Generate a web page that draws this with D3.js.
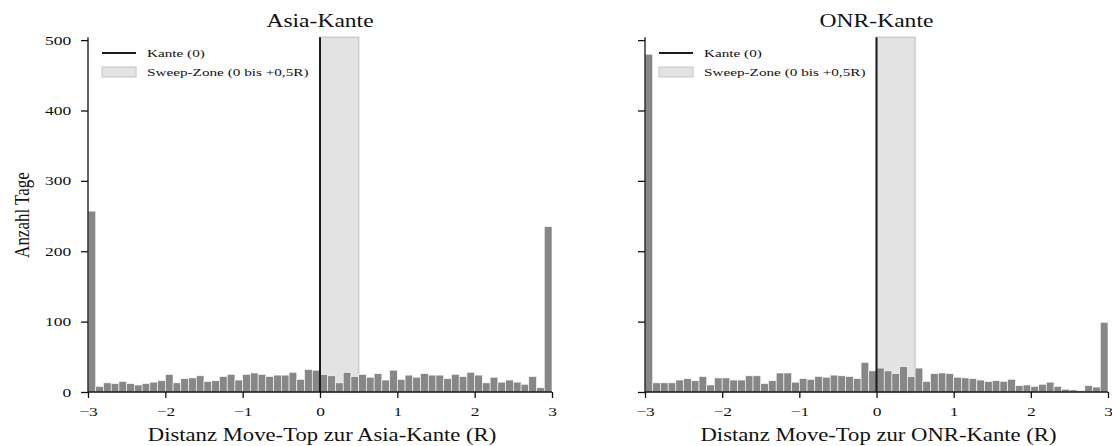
<!DOCTYPE html>
<html><head><meta charset="utf-8">
<script src="https://cdn.jsdelivr.net/npm/d3@7"></script>
<style>
html,body{margin:0;padding:0;background:#fff;}
svg{display:block;font-family:"Liberation Serif","DejaVu Serif",serif;}
</style></head>
<body>
<svg id="chart" width="1112" height="446"></svg>
<script>
// ---- data ----
const binLefts = d3.range(60).map(i => -3 + i * 0.1);
const binWidth = 0.1;
const asiaCounts = [257,8,13,12,15,12,10,12,14,16, 25,13,19,20,23,15,16,22,25,17, 25,27,25,22,24,24,28,18,32,31,
                    25,23,13,28,22,25,21,26,17,31, 18,24,21,26,24,24,19,25,22,28, 24,13,21,14,17,14,11,22,6,235];
const onrCounts  = [480,13,13,13,17,19,16,22,10,20, 20,17,17,23,23,12,16,27,27,14, 19,18,22,21,24,23,22,19,42,30,
                    34,30,26,36,22,34,15,26,27,26, 21,20,19,17,15,16,15,18,9,10, 8,11,14,8,4,3,2,9,7,99];
const xTicks = [-3,-2,-1,0,1,2,3];
const yTicks = [0,100,200,300,400,500];
const titles = ["Asia-Kante", "ONR-Kante"];
const xLabels = ["Distanz Move-Top zur Asia-Kante (R)", "Distanz Move-Top zur ONR-Kante (R)"];
const yLabel = "Anzahl Tage";
const legendLabels = ["Kante (0)", "Sweep-Zone (0 bis +0,5R)"];
const sweepZone = [0, 0.5];
const edgeValue = 0;

// ---- layout ----
const svg = d3.select("#chart");
const panels = [
  {x0: 88, x1: 552, counts: asiaCounts, showYLabels: true},
  {x0: 645, x1: 1108, counts: onrCounts, showYLabels: false}
];
const yTop = 37.3, yBot = 392;
const y = d3.scaleLinear().domain([0, 504]).range([yBot, yTop]);
const FONT = '"Liberation Serif","DejaVu Serif",serif';

function txt(parent, x, yv, str, size, sx, anchor, rot) {
  const g = parent.append("g").attr("transform",
    `translate(${x},${yv}) scale(${sx},1)` + (rot ? ` rotate(${rot})` : ""));
  return g.append("text").attr("x", 0).attr("y", 0)
    .attr("font-size", size).attr("text-anchor", anchor || "start")
    .attr("font-family", FONT)
    .attr("fill", "#111").text(str);
}

panels.forEach((p, i) => {
  const x = d3.scaleLinear().domain([-3, 3]).range([p.x0, p.x1]);
  const g = svg.append("g");

  // sweep zone
  g.append("rect")
    .attr("x", x(sweepZone[0])).attr("y", yTop)
    .attr("width", x(sweepZone[1]) - x(sweepZone[0])).attr("height", yBot - yTop)
    .attr("fill", "#e3e3e3").attr("stroke", "#cccccc").attr("stroke-width", 1.5);

  // bars
  g.selectAll("rect.bar").data(p.counts).enter().append("rect")
    .attr("class", "bar")
    .attr("x", (d, j) => x(binLefts[j]))
    .attr("width", (d, j) => x(binLefts[j] + binWidth) - x(binLefts[j]))
    .attr("y", d => y(d))
    .attr("height", d => y(0) - y(d))
    .attr("fill", "#878787").attr("stroke", "#ffffff").attr("stroke-width", 0.6);

  // edge line
  g.append("line")
    .attr("x1", x(edgeValue)).attr("x2", x(edgeValue))
    .attr("y1", yTop).attr("y2", yBot)
    .attr("stroke", "#1a1a1a").attr("stroke-width", 2);

  // axes
  const xAxis = g.append("g").attr("transform", `translate(0,${yBot})`)
    .call(d3.axisBottom(x).tickValues(xTicks).tickSize(6).tickPadding(9).tickFormat(d3.format("d")));
  const yAxis = g.append("g").attr("transform", `translate(${p.x0},0)`)
    .call(d3.axisLeft(y).tickValues(yTicks).tickSize(7).tickPadding(10)
      .tickFormat(p.showYLabels ? d3.format("d") : () => ""));
  [xAxis, yAxis].forEach(a => {
    a.attr("font-family", FONT);
    a.select(".domain").attr("stroke", "#111").attr("stroke-width", 1.3);
    a.selectAll(".tick line").attr("stroke", "#111").attr("stroke-width", 1.3);
    a.selectAll(".tick text").attr("font-size", 12.5).attr("fill", "#111")
      .attr("font-family", FONT);
  });
  xAxis.selectAll(".tick text").attr("transform", "scale(1.4,1)");
  yAxis.selectAll(".tick text").attr("x", -12).attr("transform", "scale(1.4,1)");
  yAxis.select(".domain").attr("d", `M0,${yTop}V${yBot}`);
  xAxis.select(".domain").attr("d", `M${p.x0},0H${p.x1}`);

  // title
  txt(svg, (p.x0 + p.x1) / 2, 26.5, titles[i], 19, 1.24, "middle");
  // x label
  txt(svg, (p.x0 + p.x1) / 2 + 2, 441, xLabels[i], 18, 1.26, "middle");

  // legend
  const lx = p.x0 + 14;
  g.append("line").attr("x1", lx).attr("x2", lx + 34).attr("y1", 53).attr("y2", 53)
    .attr("stroke", "#1a1a1a").attr("stroke-width", 2);
  g.append("rect").attr("x", lx).attr("y", 67).attr("width", 34).attr("height", 10)
    .attr("fill", "#e3e3e3").attr("stroke", "#cccccc").attr("stroke-width", 1.2);
  txt(g, lx + 45, 57, legendLabels[0], 10.5, 1.45, "start");
  txt(g, lx + 45, 75.5, legendLabels[1], 10.5, 1.45, "start");
});

// y label
txt(svg, 29, 215, yLabel, 17, 1.2, "middle", -90);
</script>
</body></html>
